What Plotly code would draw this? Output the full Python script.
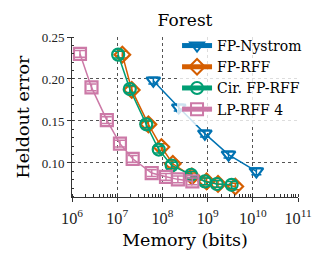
import plotly.graph_objects as go

# ---- data ----
nys_x = [6.3e7, 2.3e8, 8.7e8, 2.9e9, 1.2e10]
nys_y = [0.198, 0.166, 0.135, 0.110, 0.090]

rff_x = [1.3e7, 2.1e7, 4.9e7, 9.5e7, 1.7e8, 4.5e8, 9.5e8, 1.7e9, 4.1e9]
rff_y = [0.229, 0.187, 0.146, 0.119, 0.099, 0.084, 0.078, 0.075, 0.072]

cir_x = [1.05e7, 1.9e7, 4.4e7, 8.3e7, 1.6e8, 4.3e8, 8.7e8, 1.6e9, 3.4e9]
cir_y = [0.229, 0.188, 0.146, 0.116, 0.097, 0.086, 0.078, 0.075, 0.074]

lp_x = [1.5e6, 2.7e6, 5.9e6, 1.15e7, 2.2e7, 5.8e7, 1.2e8, 2.2e8, 4.6e8]
lp_y = [0.230, 0.190, 0.151, 0.123, 0.105, 0.088, 0.0835, 0.0805, 0.078]

err = 0.004

series = [
    ("FP-Nystrom", nys_x, nys_y, "#0072B2", "triangle-down-open"),
    ("FP-RFF", rff_x, rff_y, "#D55E00", "diamond-open"),
    ("Cir. FP-RFF", cir_x, cir_y, "#009E73", "circle-open"),
    ("LP-RFF 4", lp_x, lp_y, "#CC79A7", "square-open"),
]

SERIF = "DejaVu Serif, serif"
TICKF = "Liberation Serif, Times New Roman, serif"

fig = go.Figure()
for name, xs, ys, col, sym in series:
    fig.add_trace(go.Scatter(
        x=xs, y=ys, name=name, mode="lines+markers",
        line=dict(color=col, width=1.5),
        marker=dict(symbol=sym, size=12, color=col, line=dict(color=col, width=2.2)),
        error_y=dict(type="constant", value=err, color=col, thickness=1.5, width=5),
    ))

fig.update_layout(
    width=319, height=256,
    margin=dict(l=64, r=29, t=29, b=67),
    paper_bgcolor="white", plot_bgcolor="white",
    title=dict(text="Forest", x=0.555, xanchor="center", y=0.953, yanchor="middle",
               font=dict(family=SERIF, size=17, color="black")),
    font=dict(family=SERIF, color="black"),
    showlegend=True,
    legend=dict(x=1.04, y=1.044, xanchor="right", yanchor="top",
                bgcolor="rgba(255,255,255,0.8)", borderwidth=0,
                font=dict(family=SERIF, size=14, color="black"),
                itemwidth=30, itemsizing="constant"),
)

fig.update_xaxes(
    type="log", range=[6, 11], dtick=1, exponentformat="power",
    showline=True, linecolor="#333", linewidth=1,
    ticks="outside", ticklen=4, tickcolor="#333", ticklabelstandoff=3,
    showgrid=True, gridcolor="#555", griddash="dot", gridwidth=1,
    zeroline=False, automargin=False,
    minor=dict(ticks="inside", ticklen=3, tickcolor="#333", showgrid=False, dtick="D1"),
    tickfont=dict(family=TICKF, size=13, color="#222"),
    title=dict(text="Memory (bits)", font=dict(family=SERIF, size=17.5, color="black"), standoff=6),
)
fig.update_yaxes(
    range=[0.0595, 0.25], tickvals=[0.10, 0.15, 0.20, 0.25], tickformat=".2f",
    showline=True, linecolor="#333", linewidth=1,
    ticks="outside", ticklen=4, tickcolor="#333",
    showgrid=True, gridcolor="#555", griddash="dot", gridwidth=1,
    zeroline=False, automargin=False,
    minor=dict(ticks="inside", ticklen=2, tickcolor="#333", showgrid=False, dtick=0.01),
    tickfont=dict(family=TICKF, size=13, color="#222"),
    title=dict(text="Heldout error", font=dict(family=SERIF, size=17.5, color="black"), standoff=7),
)

fig.write_html("out.html")
